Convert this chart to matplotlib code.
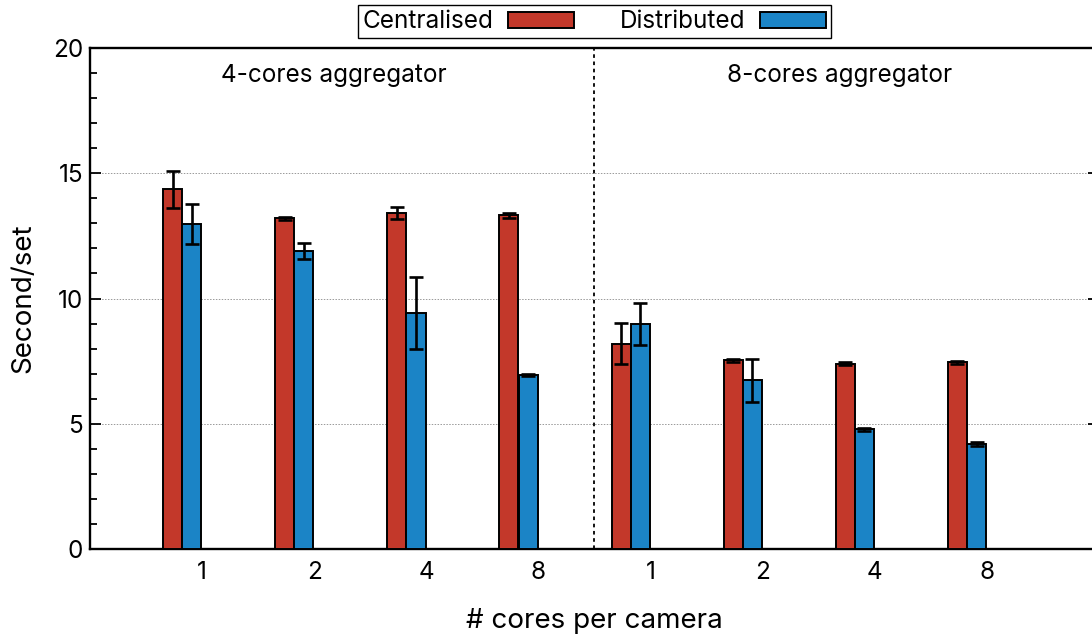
import matplotlib.pyplot as plt
from matplotlib.ticker import MultipleLocator
import numpy as np

plt.rcParams['font.family'] = ['Inter', 'DejaVu Sans']

# data
tick_labels = ['1', '2', '4', '8', '1', '2', '4', '8']
centralised = [14.36, 13.20, 13.41, 13.33, 8.20, 7.53, 7.40, 7.45]
centralised_err = [0.74, 0.05, 0.23, 0.10, 0.83, 0.05, 0.05, 0.05]
distributed = [12.97, 11.90, 9.42, 6.95, 8.98, 6.73, 4.78, 4.19]
distributed_err = [0.80, 0.33, 1.44, 0.05, 0.84, 0.87, 0.05, 0.07]
group_names = ['4-cores aggregator', '8-cores aggregator']

red = '#c3382a'
blue = '#1b84c6'

fig = plt.figure(figsize=(10.92, 6.36), dpi=100)
ax = fig.add_axes([0.0824, 0.1368, 0.924, 0.7877])

x = np.arange(len(tick_labels))
w = 0.17
err_kw = dict(ecolor='black', elinewidth=1.9, capsize=5, capthick=1.9)
ax.bar(x - 0.263, centralised, w, yerr=centralised_err, color=red,
       edgecolor='black', linewidth=1.4, error_kw=err_kw, label='Centralised', zorder=3)
ax.bar(x - 0.092, distributed, w, yerr=distributed_err, color=blue,
       edgecolor='black', linewidth=1.4, error_kw=err_kw, label='Distributed', zorder=3)

# separator between the two aggregator groups
ax.axvline(3.5, color='black', linestyle=(0, (2, 2)), linewidth=1.3, zorder=2)

ax.text(0.17, 18.9, group_names[0], fontsize=17.5, va='center', ha='left')
ax.text(4.68, 18.9, group_names[1], fontsize=17.5, va='center', ha='left')

ax.set_xlim(-1, 8)
ax.set_ylim(0, 20)
ax.set_xticks(x)
ax.set_xticklabels(tick_labels)
ax.yaxis.set_major_locator(MultipleLocator(5))
ax.yaxis.set_minor_locator(MultipleLocator(1))
ax.tick_params(axis='x', length=0, pad=9, labelsize=17.5)
ax.tick_params(axis='y', which='major', direction='in', length=8, width=1.3,
               labelsize=17.5, right=True, pad=5)
ax.tick_params(axis='y', which='minor', direction='in', length=5, width=1.3, right=True)

for s in ax.spines.values():
    s.set_linewidth(1.7)

ax.grid(axis='y', which='major', color='#999999', linestyle=(0, (1.5, 1.5)), linewidth=0.7, zorder=0)

ax.set_ylabel('Second/set', fontsize=20, labelpad=12)
ax.set_xlabel('# cores per camera', fontsize=20, labelpad=17)

ax.legend(loc='lower center', bbox_to_anchor=(0.5, 1.005), ncol=2, markerfirst=False,
          fontsize=17.5, frameon=True, fancybox=False, edgecolor='black', framealpha=1,
          handlelength=2.7, handleheight=0.62, columnspacing=1.9, handletextpad=0.6,
          borderpad=0.2, borderaxespad=0.3)

fig.savefig('out.png', dpi=100)
